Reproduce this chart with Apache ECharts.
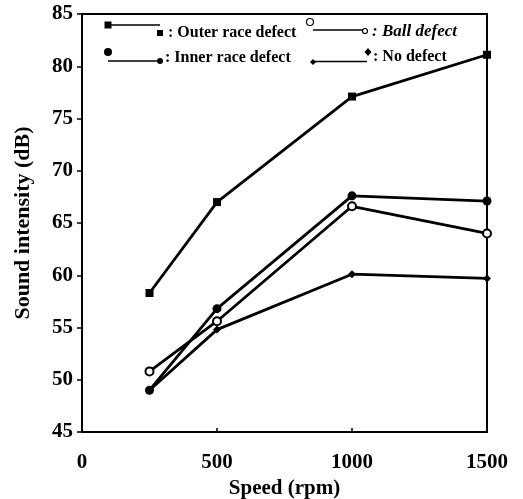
<!DOCTYPE html>
<html>
<head>
<meta charset="utf-8">
<script src="https://cdn.jsdelivr.net/npm/echarts@6/dist/echarts.min.js"></script>
<style>html,body{margin:0;padding:0;background:#fff;}#c{width:523px;height:499px;}</style>
</head>
<body>
<div id="c"></div>
<script>
// Data
var speeds = [250, 500, 1000, 1500];
var outerRace = [58.3, 67.0, 77.1, 81.1];
var ballDefect = [50.8, 55.6, 66.6, 64.0];
var innerRace = [49.0, 56.8, 67.6, 67.1];
var noDefect = [49.0, 54.8, 60.1, 59.7];
var xTicks = [0, 500, 1000, 1500];
var yTicks = [45, 50, 55, 60, 65, 70, 75, 80, 85];

function pairs(vals) { return speeds.map(function (s, i) { return [s, vals[i]]; }); }

var FONT = '"Liberation Serif", "Times New Roman", serif';
var chart = echarts.init(document.getElementById('c'), null, { renderer: 'canvas' });

function mkSeries(name, vals, symbol, size) {
  return {
    name: name, type: 'line', data: pairs(vals),
    symbol: symbol, symbolSize: size, showSymbol: true,
    lineStyle: { color: '#000', width: 2.8 },
    itemStyle: { color: '#000', borderWidth: symbol === 'emptyCircle' ? 1.6 : 0 },
    animation: false, z: 3
  };
}

var lg = 'bold 16px ' + FONT;
var lgI = 'italic bold 17px ' + FONT;
var graphics = [
  // Outer race
  { type: 'rect', shape: { x: 104.5, y: 21.5, width: 7, height: 7 }, style: { fill: '#000' } },
  { type: 'line', shape: { x1: 108, y1: 25, x2: 160, y2: 25 }, style: { stroke: '#000', lineWidth: 1.6 } },
  { type: 'rect', shape: { x: 157, y: 30, width: 6, height: 6 }, style: { fill: '#000' } },
  { type: 'text', style: { text: ': Outer race defect', x: 168, y: 33, font: lg, fill: '#000', verticalAlign: 'middle' } },
  // Ball
  { type: 'circle', shape: { cx: 310, cy: 22, r: 3.5 }, style: { fill: '#fff', stroke: '#000', lineWidth: 1.2 } },
  { type: 'line', shape: { x1: 313, y1: 30, x2: 363, y2: 30 }, style: { stroke: '#000', lineWidth: 1.6 } },
  { type: 'circle', shape: { cx: 365, cy: 31, r: 2.5 }, style: { fill: '#fff', stroke: '#000', lineWidth: 1.2 } },
  { type: 'text', style: { text: ': Ball defect', x: 372, y: 32, font: lgI, fill: '#000', verticalAlign: 'middle' } },
  // Inner race
  { type: 'circle', shape: { cx: 108, cy: 52, r: 4 }, style: { fill: '#000' } },
  { type: 'line', shape: { x1: 108, y1: 61, x2: 160, y2: 61 }, style: { stroke: '#000', lineWidth: 1.6 } },
  { type: 'circle', shape: { cx: 160, cy: 61, r: 3 }, style: { fill: '#000' } },
  { type: 'text', style: { text: ': Inner race defect', x: 165, y: 58, font: lg, fill: '#000', verticalAlign: 'middle' } },
  // No defect
  { type: 'polygon', shape: { points: [[313, 59], [316, 62], [313, 65], [310, 62]] }, style: { fill: '#000' } },
  { type: 'line', shape: { x1: 313, y1: 61.5, x2: 367, y2: 61.5 }, style: { stroke: '#000', lineWidth: 1.6 } },
  { type: 'polygon', shape: { points: [[368, 48], [371.5, 52], [368, 56], [364.5, 52]] }, style: { fill: '#000' } },
  { type: 'text', style: { text: ': No defect', x: 373, y: 57, font: lg, fill: '#000', verticalAlign: 'middle' } }
];

var option = {
  backgroundColor: '#fff',
  animation: false,
  grid: { left: 82, right: 36, top: 14, bottom: 67, show: true, borderColor: '#000', borderWidth: 2,
    backgroundColor: 'transparent', containLabel: false, outerBoundsMode: 'none' },
  xAxis: {
    type: 'value', min: xTicks[0], max: xTicks[xTicks.length - 1], interval: 500,
    name: 'Speed (rpm)', nameLocation: 'middle', nameGap: 42,
    nameTextStyle: { fontFamily: FONT, fontWeight: 'bold', fontSize: 21, color: '#000' },
    axisLine: { lineStyle: { color: '#000', width: 2 } },
    axisTick: { inside: true, length: 4, lineStyle: { color: '#000', width: 1.5 } },
    axisLabel: { margin: 20, fontFamily: FONT, fontWeight: 'bold', fontSize: 21, color: '#000',
      formatter: function (v) { return String(v); } },
    splitLine: { show: false }
  },
  yAxis: {
    type: 'value', min: yTicks[0], max: yTicks[yTicks.length - 1], interval: 5,
    name: 'Sound intensity (dB)', nameLocation: 'middle', nameGap: 48,
    nameTextStyle: { fontFamily: FONT, fontWeight: 'bold', fontSize: 22, color: '#000' },
    axisLine: { lineStyle: { color: '#000', width: 2 } },
    axisTick: { inside: false, length: 5, lineStyle: { color: '#000', width: 1.5 } },
    axisLabel: { margin: 9, fontFamily: FONT, fontWeight: 'bold', fontSize: 21, color: '#000',
      formatter: function (v) { return String(v); } },
    splitLine: { show: false }
  },
  graphic: graphics,
  series: [
    mkSeries('Outer race defect', outerRace, 'rect', 8),
    mkSeries('Ball defect', ballDefect, 'emptyCircle', 8),
    mkSeries('Inner race defect', innerRace, 'circle', 9),
    mkSeries('No defect', noDefect, 'diamond', 8)
  ]
};
chart.setOption(option);
</script>
</body>
</html>
